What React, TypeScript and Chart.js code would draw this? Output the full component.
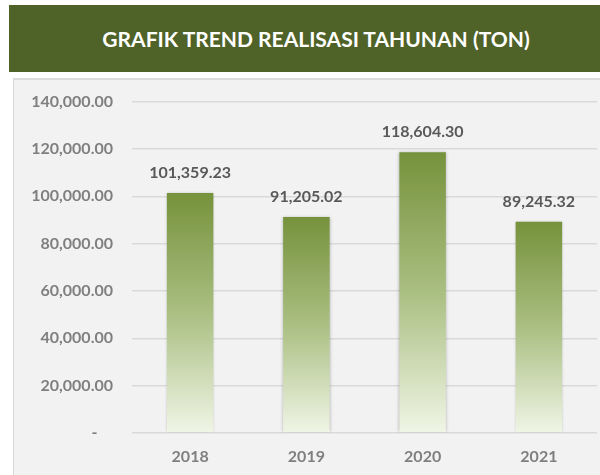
import React, { useEffect, useRef } from "react";
import { Chart, registerables } from "chart.js";

Chart.register(...registerables);

const TITLE = "GRAFIK TREND REALISASI TAHUNAN (TON)";
const categories = ["2018", "2019", "2020", "2021"];
const realisasi = [101359.23, 91205.02, 118604.3, 89245.32];
const yMax = 140000;
const yStep = 20000;

const FONT = "Lato, 'Open Sans', sans-serif";

const fmt = (v: number) =>
  v.toLocaleString("en-US", { minimumFractionDigits: 2, maximumFractionDigits: 2 });

const barLabelPlugin = {
  id: "barLabels",
  afterDatasetsDraw(chart: any) {
    const ctx = chart.ctx;
    const meta = chart.getDatasetMeta(0);
    ctx.save();
    ctx.font = `bold 16px ${FONT}`;
    ctx.fillStyle = "#595959";
    ctx.textAlign = "center";
    ctx.textBaseline = "middle";
    meta.data.forEach((bar: any, i: number) => {
      const v = chart.data.datasets[0].data[i];
      ctx.fillText(fmt(v), bar.x, bar.y - 20);
    });
    ctx.restore();
  },
};

const barShadowPlugin = {
  id: "barShadow",
  beforeDatasetDraw(chart: any) {
    const ctx = chart.ctx;
    ctx.save();
    ctx.shadowColor = "rgba(0,0,0,0.28)";
    ctx.shadowBlur = 3;
    ctx.shadowOffsetX = 0;
    ctx.shadowOffsetY = 0;
  },
  afterDatasetDraw(chart: any) {
    chart.ctx.restore();
  },
};

export default function App() {
  const ref = useRef<HTMLCanvasElement | null>(null);

  useEffect(() => {
    if (!ref.current) return;
    const chart = new Chart(ref.current, {
      type: "bar",
      data: {
        labels: categories,
        datasets: [
          {
            data: realisasi,
            backgroundColor: (c: any) => {
              const ch = c.chart;
              const sy = ch.scales?.y;
              if (!ch.chartArea || !sy || c.raw == null) return "#9BB56A";
              const top = sy.getPixelForValue(c.raw);
              const bottom = sy.getPixelForValue(0);
              const g = ch.ctx.createLinearGradient(0, top, 0, bottom);
              g.addColorStop(0, "#76923C");
              g.addColorStop(0.5, "#AABF82");
              g.addColorStop(1, "#F0F5E6");
              return g;
            },
            borderWidth: 0,
            barPercentage: 0.8,
            categoryPercentage: 0.5,
          },
        ],
      },
      options: {
        animation: false,
        responsive: true,
        maintainAspectRatio: false,
        layout: { padding: { top: 0, right: 3, left: 0, bottom: 0 } },
        plugins: {
          legend: { display: false },
          title: { display: false },
          tooltip: { enabled: false },
        },
        scales: {
          x: {
            grid: { display: false, drawTicks: false },
            border: { display: false },
            ticks: {
              color: "#7F7F7F",
              font: { family: FONT, size: 16, weight: "bold" },
              padding: 14,
            },
            afterFit: (s: any) => {
              s.height = 42;
            },
          },
          y: {
            min: 0,
            max: yMax,
            grid: { color: "#D9D9D9", lineWidth: 1.5, drawTicks: false },
            border: { display: false },
            ticks: {
              stepSize: yStep,
              color: "#7F7F7F",
              font: { family: FONT, size: 16, weight: "bold" },
              padding: 19,
              callback: (v: any) => (Number(v) === 0 ? "-    " : fmt(Number(v))),
            },
            afterFit: (s: any) => {
              s.width = 118;
            },
          },
        },
      },
      plugins: [barShadowPlugin, barLabelPlugin],
    });
    return () => chart.destroy();
  }, []);

  return (
    <div
      style={{
        position: "fixed",
        left: 0,
        top: 0,
        width: 600,
        height: 475,
        background: "#FFFFFF",
        overflow: "hidden",
      }}
    >
      <div
        style={{
          position: "absolute",
          left: 9,
          top: 5,
          width: 614,
          height: 67,
          background: "#4F6228",
          color: "#FFFFFF",
          fontFamily: FONT,
          fontWeight: "bold",
          fontSize: 21,
          display: "flex",
          alignItems: "center",
          justifyContent: "center",
          whiteSpace: "nowrap",
        }}
      >
        {TITLE}
      </div>
      <div
        style={{
          position: "absolute",
          left: 13,
          top: 78,
          width: 587,
          height: 397,
          boxSizing: "border-box",
          background: "#F2F2F2",
          borderLeft: "1px solid #D9D9D9",
          borderTop: "2px solid #DCDCDC",
        }}
      >
        <div style={{ position: "relative", top: -7, width: 586, height: 402 }}>
          <canvas ref={ref} />
        </div>
      </div>
    </div>
  );
}
